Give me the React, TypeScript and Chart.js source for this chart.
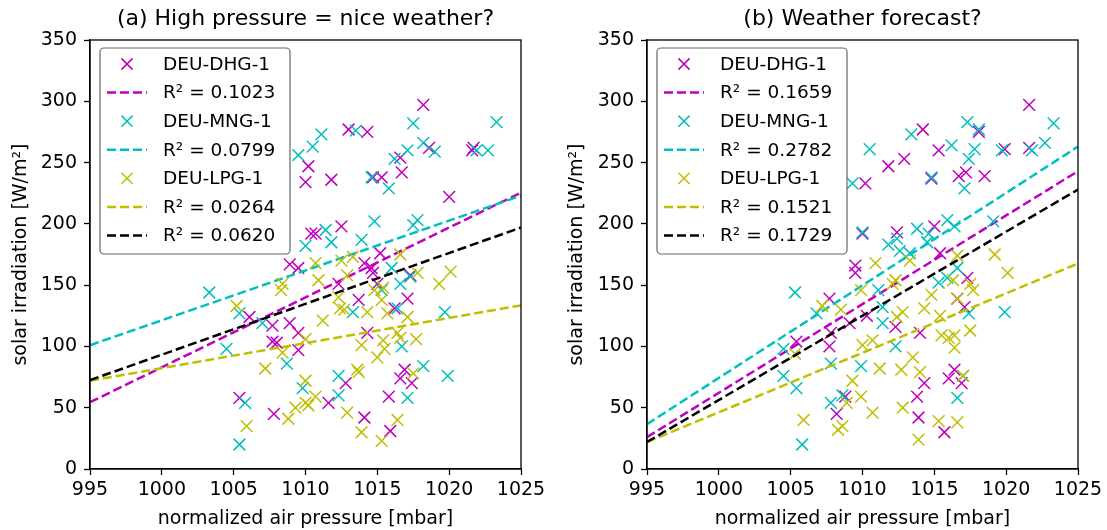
import React, { useEffect, useRef } from 'react';
import { Chart, registerables } from 'chart.js';
Chart.register(...registerables);
Chart.defaults.font.family = '"DejaVu Sans"';

const X_MIN = 995, X_MAX = 1025, X_STEP = 5;
const Y_MIN = 0, Y_MAX = 350, Y_STEP = 50;

const stations = ['DEU-DHG-1', 'DEU-MNG-1', 'DEU-LPG-1'];
const colors = ['#bf00bf', '#00bfbf', '#bfbf00', '#000000'];

// ---- Panel (a): measured pressure ----
const aDhgP = [1018.2,1013.0,1014.3,1018.6,1021.6,1021.7,1016.6,1010.2,1010.0,1011.8,1014.7,1015.3,1016.7,1020.0,1010.4,1010.7,1012.5,1008.9,1009.5,1014.1,1014.6,1015.2,1017.3,1006.1,1007.7,1008.9,1009.5,1007.7,1008.0,1009.5,1005.4,1007.8,1012.3,1013.7,1014.7,1015.0,1017.1,1016.2,1014.3,1012.8,1011.6,1014.1,1015.9,1015.8,1016.6,1016.9,1017.4];
const aDhgI = [297,277,275,262,260,262,254,247,234,236,238,238,242,222,192,192,198,167,164,168,164,176,158,124,117,119,111,104,103,97,58,45,151,138,160,151,139,131,111,70,54,42,31,59,74,81,70];
const aMngP = [1011.1,1013.5,1017.5,1023.3,1010.5,1009.5,1018.2,1019.0,1021.9,1022.7,1017.1,1016.2,1014.6,1015.8,1014.8,1017.5,1017.8,1011.4,1013.9,1011.8,1010.0,1016.0,1003.3,1005.4,1007.0,1004.5,1008.7,1005.8,1005.4,1009.8,1016.6,1015.3,1013.3,1016.4,1019.7,1016.7,1018.2,1019.9,1012.3,1012.3,1017.1,1017.3];
const aMngI = [273,276,282,283,263,256,266,259,260,260,260,253,238,229,202,199,203,195,187,185,182,164,144,127,119,98,86,54,20,66,151,146,128,131,128,100,84,76,76,60,58,157];
const aLpgP = [1005.2,1008.4,1008.3,1010.0,1008.4,1007.2,1010.0,1010.0,1009.3,1008.8,1005.9,1010.9,1012.9,1012.3,1012.4,1012.7,1011.2,1014.3,1015.3,1015.4,1014.8,1015.7,1017.1,1019.3,1020.1,1017.8,1013.9,1015.4,1016.4,1016.6,1015.5,1017.7,1015.0,1013.6,1013.7,1017.5,1010.7,1010.2,1012.9,1013.9,1015.3,1016.4,1010.7,1012.5,1013.3,1016.6];
const aLpgI = [133,151,146,106,95,82,72,54,50,41,35,154,158,140,131,130,121,128,138,148,146,127,124,151,161,160,101,105,111,107,98,106,91,81,79,78,59,52,46,30,23,40,168,170,173,175];
const aFitStart = [54.5, 101, 72, 72.5];
const aFitEnd = [225.5, 223, 133.5, 197];
const aR2 = ['0.1023', '0.0799', '0.0264', '0.0620'];

// ---- Panel (b): forecast pressure ----
const bDhgP = [1021.6,1014.2,1015.3,1012.9,1011.8,1010.2,1016.7,1017.2,1018.5,1014.8,1019.9,1021.6,1018.1,1012.4,1015.0,1015.4,1010.0,1009.5,1007.7,1007.8,1007.7,1005.4,1009.1,1008.2,1008.8,1009.5,1017.3,1016.6,1017.1,1014.0,1012.3,1016.4,1016.0,1016.9,1014.3,1013.8,1013.9,1015.7,1010.3];
const bDhgI = [297,277,260,253,247,233,239,242,239,237,261,262,275,193,198,176,192,166,139,111,100,104,119,45,59,160,156,139,132,111,116,81,74,70,70,59,42,30,125];
const bMngP = [1010.5,1013.4,1017.3,1018.1,1016.2,1017.8,1019.7,1021.8,1022.7,1023.3,1017.4,1014.8,1017.1,1015.9,1016.4,1019.1,1013.8,1011.8,1012.4,1014.5,1012.6,1013.3,1010.0,1016.6,1014.6,1009.3,1005.3,1006.8,1004.5,1004.5,1005.4,1007.8,1009.9,1007.8,1008.6,1005.8,1011.1,1011.4,1011.4,1012.3,1017.4,1019.9,1017.0,1016.6,1015.3,1015.9];
const bMngI = [261,273,283,277,264,261,260,260,266,282,253,238,229,203,198,202,196,183,188,185,178,176,193,164,192,233,144,127,98,76,66,86,84,54,60,20,146,132,119,100,127,128,76,58,152,156];
const bLpgP = [1019.2,1020.1,1016.6,1013.3,1010.9,1007.2,1008.5,1009.9,1005.3,1009.3,1009.9,1008.9,1005.9,1008.3,1008.6,1012.3,1012.1,1014.8,1014.3,1015.4,1012.8,1012.4,1016.3,1017.7,1017.5,1016.6,1017.5,1015.5,1016.0,1016.4,1016.4,1010.7,1010.0,1013.5,1014.0,1012.7,1011.2,1017.0,1010.7,1012.8,1015.3,1016.6,1013.9];
const bLpgI = [175,160,174,170,168,133,130,146,94,72,59,54,40,32,35,154,151,142,131,125,128,124,154,146,151,139,113,109,107,109,99,105,101,91,79,81,82,76,46,50,39,38,24];
const bFitStart = [26, 36.6, 22, 22];
const bFitEnd = [243, 263, 167.6, 228];
const bR2 = ['0.1659', '0.2782', '0.1521', '0.1729'];

const framePlugin = {
  id: 'frameLegend',
  afterDraw(chart: any, _args: any, opts: any) {
    const { ctx, chartArea: ca } = chart;
    ctx.save();
    ctx.strokeStyle = '#000';
    ctx.lineWidth = 1.3;
    ctx.setLineDash([]);
    ctx.strokeRect(ca.left, ca.top, ca.right - ca.left, ca.bottom - ca.top);
    ctx.fillStyle = '#000';
    ctx.font = '22px "DejaVu Sans"';
    ctx.textAlign = 'center';
    ctx.textBaseline = 'middle';
    ctx.fillText(opts.title, (ca.left + ca.right) / 2, 19);
    const lx = ca.left + 10, ly = ca.top + 8, lw = 190, lh = 206;
    ctx.beginPath();
    (ctx as any).roundRect(lx, ly, lw, lh, 4);
    ctx.fillStyle = 'rgba(255,255,255,0.8)';
    ctx.fill();
    ctx.strokeStyle = '#666';
    ctx.lineWidth = 1.2;
    ctx.stroke();
    const entries: { kind: string; color: string; label: string }[] = [];
    for (let k = 0; k < 3; k++) {
      entries.push({ kind: 'marker', color: colors[k], label: stations[k] });
      entries.push({ kind: 'line', color: colors[k], label: 'R² = ' + opts.r2[k] });
    }
    entries.push({ kind: 'line', color: colors[3], label: 'R² = ' + opts.r2[3] });
    ctx.font = '18.5px "DejaVu Sans"';
    ctx.textAlign = 'left';
    entries.forEach((e, i) => {
      const cy = ly + 16 + i * 28.6;
      ctx.strokeStyle = e.color;
      if (e.kind === 'marker') {
        const cx = lx + 27, h = 5.6;
        ctx.lineWidth = 1.5;
        ctx.setLineDash([]);
        ctx.beginPath();
        ctx.moveTo(cx - h, cy - h); ctx.lineTo(cx + h, cy + h);
        ctx.moveTo(cx - h, cy + h); ctx.lineTo(cx + h, cy - h);
        ctx.stroke();
      } else {
        ctx.lineWidth = 2.5;
        ctx.setLineDash([9, 4]);
        ctx.beginPath();
        ctx.moveTo(lx + 7, cy); ctx.lineTo(lx + 47, cy);
        ctx.stroke();
      }
      ctx.setLineDash([]);
      ctx.fillStyle = '#000';
      ctx.fillText(e.label, lx + 63, cy + 1);
    });
    ctx.restore();
  },
};

function makeConfig(title: string, P: number[][], I: number[][], fs: number[], fe: number[], r2: string[], yWidth: number, padRight: number) {
  const datasets: any[] = [];
  let drawIdx = 0;
  for (let k = 0; k < 3; k++) {
    datasets.push({
      label: stations[k],
      data: P[k].map((p, i) => ({ x: p, y: I[k][i] })),
      showLine: false,
      pointStyle: 'crossRot',
      pointRadius: 8.3,
      pointHoverRadius: 8.3,
      pointBorderWidth: 1.5,
      borderColor: colors[k],
      backgroundColor: colors[k],
      order: 20 - drawIdx++,
    });
    datasets.push({
      label: 'R² = ' + r2[k],
      data: [{ x: X_MIN, y: fs[k] }, { x: X_MAX, y: fe[k] }],
      showLine: true,
      pointRadius: 0,
      borderColor: colors[k],
      borderWidth: 2.5,
      borderDash: [9, 4],
      fill: false,
      order: 20 - drawIdx++,
    });
  }
  datasets.push({
    label: 'R² = ' + r2[3],
    data: [{ x: X_MIN, y: fs[3] }, { x: X_MAX, y: fe[3] }],
    showLine: true,
    pointRadius: 0,
    borderColor: colors[3],
    borderWidth: 2.5,
    borderDash: [9, 4],
    fill: false,
    order: 20 - drawIdx++,
  });
  return {
    type: 'scatter',
    data: { datasets },
    plugins: [framePlugin],
    options: {
      animation: false,
      responsive: false,
      events: [],
      layout: { padding: { top: 40, right: padRight, bottom: 0, left: 0 } },
      plugins: {
        legend: { display: false },
        tooltip: { enabled: false },
        title: { display: false },
        frameLegend: { title, r2 },
      },
      scales: {
        x: {
          type: 'linear',
          min: X_MIN,
          max: X_MAX,
          ticks: { stepSize: X_STEP, color: '#000', font: { size: 19 }, padding: 4, maxRotation: 0, callback: (v: number) => String(v) },
          grid: { drawOnChartArea: false, tickLength: 6, tickColor: '#000', tickWidth: 1.3 },
          border: { display: true, color: '#000', width: 1.3 },
          title: { display: true, text: 'normalized air pressure [mbar]', color: '#000', font: { size: 19 }, padding: { top: 4, bottom: 0 } },
          afterFit: (s: any) => { s.height = 61; },
        },
        y: {
          type: 'linear',
          min: Y_MIN,
          max: Y_MAX,
          ticks: { stepSize: Y_STEP, color: '#000', font: { size: 19 }, padding: 7 },
          grid: { drawOnChartArea: false, tickLength: 6, tickColor: '#000', tickWidth: 1.3 },
          border: { display: true, color: '#000', width: 1.3 },
          title: { display: true, text: 'solar irradiation [W/m²]', color: '#000', font: { size: 19 }, padding: { top: 10, bottom: 0 } },
          afterFit: (s: any) => { s.width = yWidth; },
        },
      },
    },
  };
}

function Panel(props: { left: number; width: number; cfg: any }) {
  const ref = useRef<HTMLCanvasElement | null>(null);
  useEffect(() => {
    if (!ref.current) return;
    const chart = new Chart(ref.current, props.cfg);
    return () => chart.destroy();
  }, []);
  return (
    <div style={{ position: 'absolute', left: props.left, top: 0, width: props.width, height: 530 }}>
      <canvas ref={ref} width={props.width} height={530} style={{ width: props.width, height: 530, display: 'block' }} />
    </div>
  );
}

export default function App() {
  const cfgA = makeConfig('(a) High pressure = nice weather?', [aDhgP, aMngP, aLpgP], [aDhgI, aMngI, aLpgI], aFitStart, aFitEnd, aR2, 90, 35);
  const cfgB = makeConfig('(b) Weather forecast?', [bDhgP, bMngP, bLpgP], [bDhgI, bMngI, bLpgI], bFitStart, bFitEnd, bR2, 91, 29);
  return (
    <div style={{ position: 'absolute', left: 0, top: 0, width: 1107, height: 530, background: '#fff' }}>
      <Panel left={0} width={556} cfg={cfgA} />
      <Panel left={556} width={551} cfg={cfgB} />
    </div>
  );
}
